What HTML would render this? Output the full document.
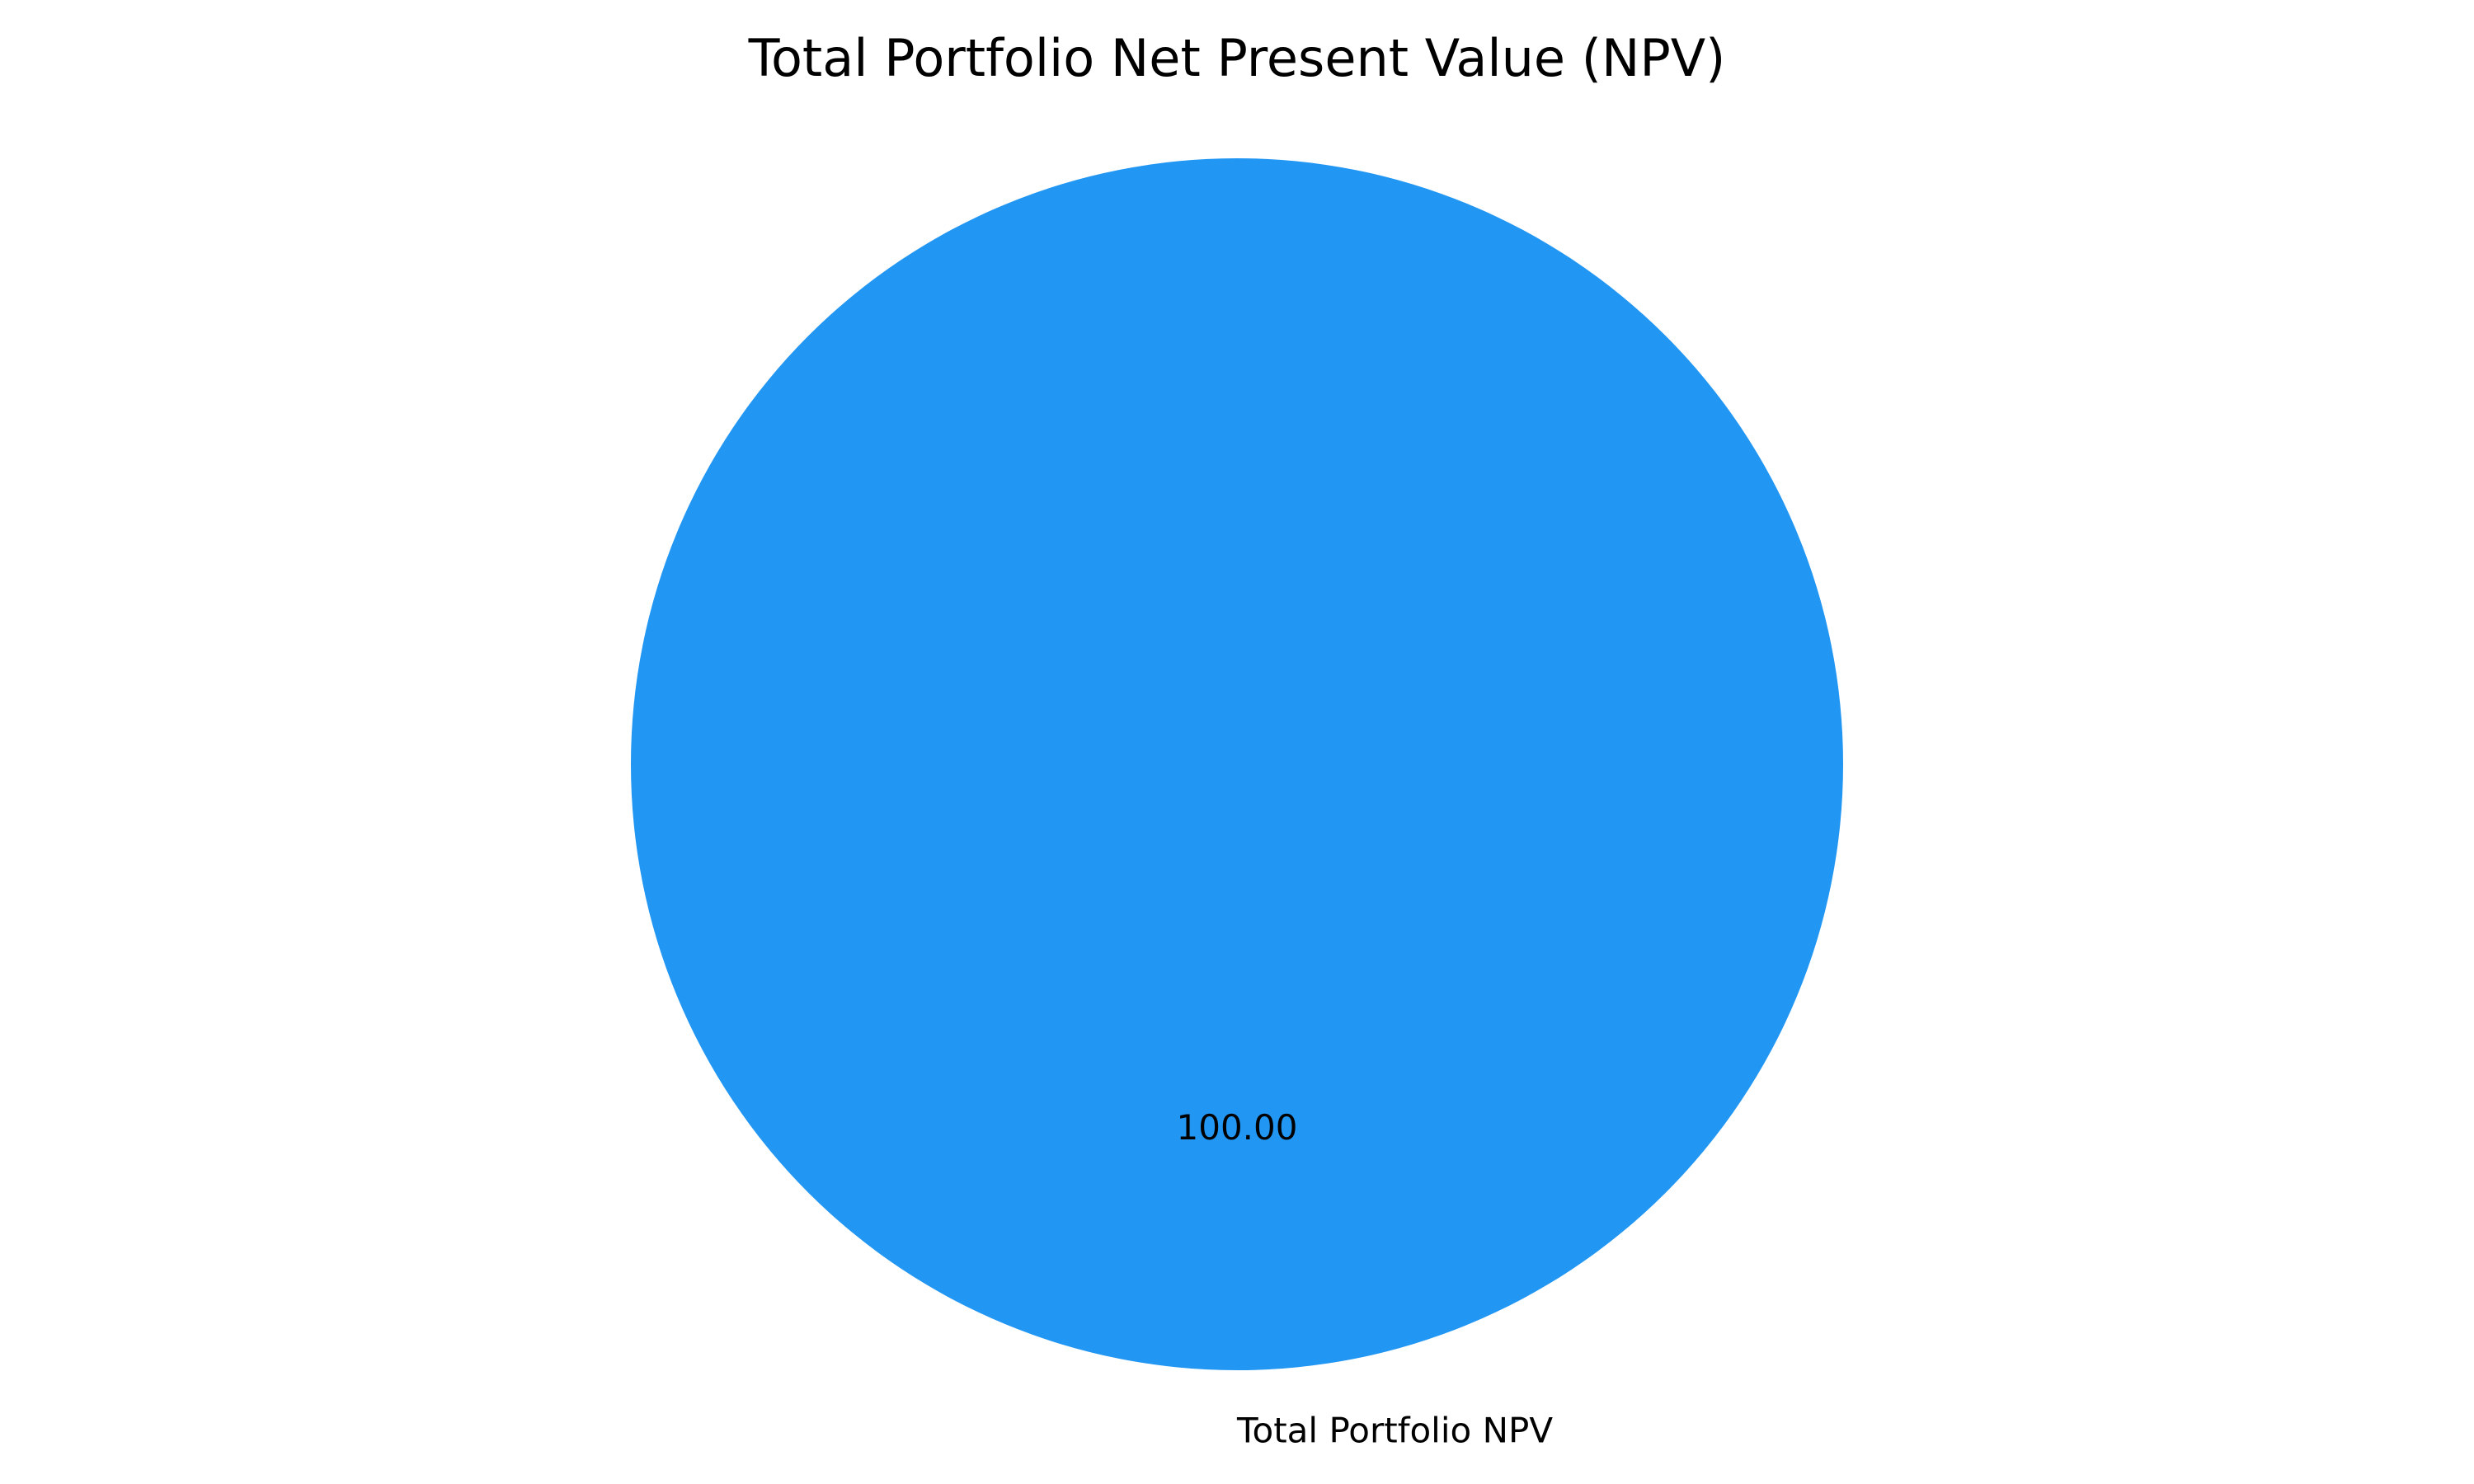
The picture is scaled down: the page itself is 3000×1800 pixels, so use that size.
<!DOCTYPE html>
<html><head><meta charset="utf-8"><style>
html,body{margin:0;padding:0;background:#fff;}
svg{display:block;}
text{font-family:"DejaVu Sans","Liberation Sans",sans-serif;fill:#000;}
</style></head><body>
<svg id="chart" width="3000" height="1800" viewBox="0 0 3000 1800">
<rect width="3000" height="1800" fill="#fff"/>
<text x="1500" y="92" font-size="62" text-anchor="middle">Total Portfolio Net Present Value (NPV)</text>
<g id="slices"></g>
</svg>
<script>
const categories = ["Total Portfolio NPV"];
const values = [100];
const colors = ["#2196F3"];
const cx = 1500, cy = 927, r = 735;
const svgNS = "http://www.w3.org/2000/svg";
const g = document.getElementById('slices');
const total = values.reduce((a,b)=>a+b,0);
let start = 0;
values.forEach((v,i)=>{
  const frac = v/total;
  const a0 = start*2*Math.PI, a1 = (start+frac)*2*Math.PI;
  let el;
  if (frac >= 0.9999) {
    el = document.createElementNS(svgNS,'circle');
    el.setAttribute('cx',cx); el.setAttribute('cy',cy); el.setAttribute('r',r);
  } else {
    el = document.createElementNS(svgNS,'path');
    const x0=cx+r*Math.cos(a0), y0=cy-r*Math.sin(a0), x1=cx+r*Math.cos(a1), y1=cy-r*Math.sin(a1);
    el.setAttribute('d',`M${cx},${cy} L${x0},${y0} A${r},${r} 0 ${frac>0.5?1:0} 0 ${x1},${y1} Z`);
  }
  el.setAttribute('fill',colors[i%colors.length]);
  
  
  g.appendChild(el);
  const midAng = (start+frac/2)*2*Math.PI;
  const lx = cx + 0.6*r*Math.cos(midAng), ly = cy + 0.6*r*Math.sin(midAng);
  const t = document.createElementNS(svgNS,'text');
  t.setAttribute('x', frac>=0.9999 ? cx : lx);
  t.setAttribute('y', (frac>=0.9999? cy+0.6*r : ly) + 14);
  t.setAttribute('font-size','42');
  t.setAttribute('text-anchor','middle');
  t.textContent = v.toFixed(2);
  
  
  g.appendChild(t);
  const c = document.createElementNS(svgNS,'text');
  c.setAttribute('x', frac>=0.9999 ? cx : cx + 1.1*r*Math.cos(midAng));
  c.setAttribute('y', (frac>=0.9999 ? cy+1.1*r : cy + 1.1*r*Math.sin(midAng)) + 14);
  c.setAttribute('font-size','42');
  c.setAttribute('text-anchor','start');
  c.textContent = categories[i];
  
  
  g.appendChild(c);
  start += frac;
});
</script>
</body></html>
